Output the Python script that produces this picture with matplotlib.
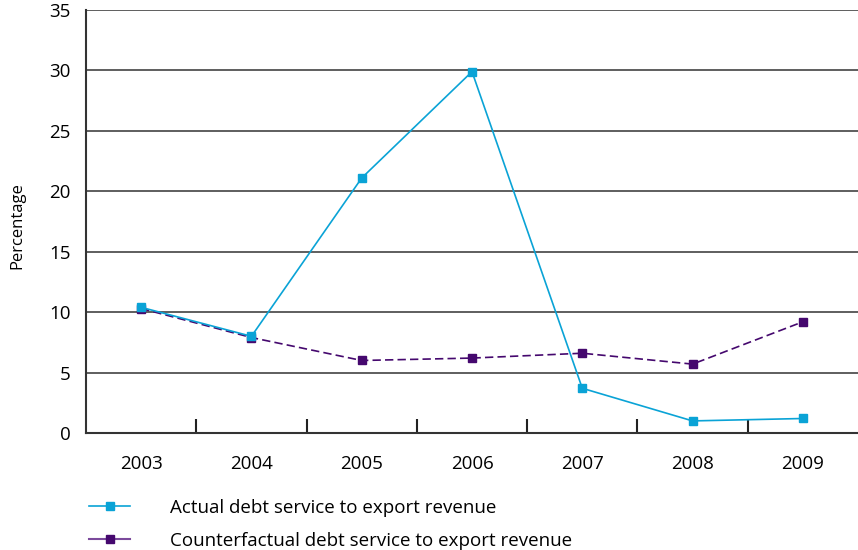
import matplotlib
matplotlib.use("Agg")
import matplotlib.pyplot as plt
from matplotlib.lines import Line2D
import numpy as np

plt.rcParams['font.family'] = ['Open Sans', 'DejaVu Sans']

years = ["2003", "2004", "2005", "2006", "2007", "2008", "2009"]
actual = [10.4, 8.0, 21.1, 29.9, 3.7, 1.0, 1.2]
counterfactual = [10.3, 7.9, 6.0, 6.2, 6.6, 5.7, 9.2]
yticks = [0, 5, 10, 15, 20, 25, 30, 35]
labels = ["Actual debt service to export revenue",
          "Counterfactual debt service to export revenue"]

c_actual = "#0aa3d6"
c_cf = "#45086e"

fig = plt.figure(figsize=(8.58, 5.5), dpi=100)
ax = fig.add_axes([86/858, 1-433/550, 1-86/858, (433-10)/550])

x = np.arange(len(years))
ax.plot(x, counterfactual, color=c_cf, lw=1.2, dashes=(5, 2.5),
        marker='s', ms=6, mec=c_cf, mfc=c_cf, zorder=3)
ax.plot(x, actual, color=c_actual, lw=1.2,
        marker='s', ms=6, mec=c_actual, mfc=c_actual, zorder=4)

ax.set_xlim(-0.5, len(years) - 0.5)
ax.set_ylim(0, 35)
ax.set_yticks(yticks)
ax.set_yticklabels([str(v) for v in yticks], fontsize=13.5)
ax.tick_params(axis='y', length=0, pad=11)
for v in yticks[1:]:
    ax.axhline(v, color='#333333', lw=1.1, zorder=1)

ax.set_xticks(x)
ax.set_xticklabels(years, fontsize=13.5)
ax.tick_params(axis='x', which='major', length=0, pad=16)
ax.set_xticks(np.arange(0.5, len(years) - 1, 1), minor=True)
ax.tick_params(axis='x', which='minor', direction='in', length=10, width=1.5, color='#222222')

for s in ['top', 'right']:
    ax.spines[s].set_visible(False)
for s in ['left', 'bottom']:
    ax.spines[s].set_color('#333333')
    ax.spines[s].set_linewidth(1.5)

fig.text(17/858, 1-226/550, "Percentage", rotation=90, ha='center', va='center', fontsize=12)

handles = [Line2D([], [], color=c_actual, lw=1.2, marker='s', ms=6),
           Line2D([], [], color="#7b4a9c", lw=1.5, marker='s', ms=6, mfc=c_cf, mec=c_cf)]
fig.legend(handles, labels, loc='upper left', bbox_to_anchor=(72/858, 1-482/550),
           frameon=False, fontsize=13.5, handlelength=2.2, handletextpad=2.1,
           labelspacing=0.8)

fig.savefig("out.png", dpi=100)
